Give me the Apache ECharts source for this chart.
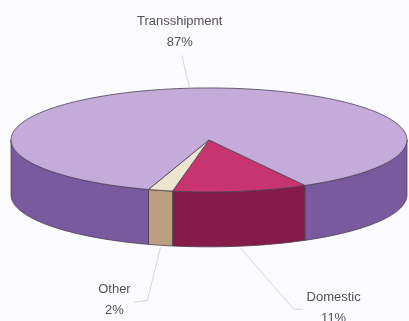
<!DOCTYPE html>
<html>
<head>
<meta charset="utf-8">
<script src="https://cdn.jsdelivr.net/npm/echarts@6/dist/echarts.min.js"></script>
<style>
  html, body { margin: 0; padding: 0; background: #fbfafc; }
  #chart { width: 409px; height: 321px; }
</style>
</head>
<body>
<div id="chart"></div>
<script>
// Cargo share by movement type
const categories = ['Domestic', 'Other', 'Transshipment'];
const shares = [11, 2, 87];

// Face colours (top surface) and rim colours (side wall) per slice
const topColors = ['#c8346f', '#ede5cf', '#c4abd9'];
const sideColors = ['#841b48', '#bc9f80', '#7a5a9f'];

// Disc geometry, as fractions of the canvas
const DISC = { cx: 0.511, cy: 0.436, rx: 0.484, ry: 0.162, depth: 0.171 };
const START_DEG = 61;   // clockwise from 3 o'clock, screen space

// Label placement relative to each slice's outer midpoint: text centre, leader bend
const labelLayout = [
  { text: [93, 60], bend: [53, 61], end: [62, 61], fromBottom: true },
  { text: [-46, 53], bend: [-13, 53], end: [-26, 55], fromBottom: true },
  { text: [-10, -56], bend: [-8, -33], end: [-8, -33], fromBottom: false }
];

const total = shares.reduce((a, b) => a + b, 0);

function sliceRange(idx) {
  let before = 0;
  for (let k = 0; k < idx; k++) before += shares[k];
  const a = START_DEG + 360 * before / total;
  const b = a + 360 * shares[idx] / total;
  return [a, b];
}

function renderItem(params, api) {
  const i = params.dataIndex;
  const W = api.getWidth(), H = api.getHeight();
  const cx = DISC.cx * W, cy = DISC.cy * H;
  const rx = DISC.rx * W, ry = DISC.ry * H, depth = DISC.depth * H;
  const pt = (deg, dy) => {
    const r = deg * Math.PI / 180;
    return [cx + rx * Math.cos(r), cy + ry * Math.sin(r) + (dy || 0)];
  };
  const arc = (a, b, dy) => {
    const pts = [];
    const n = Math.max(2, Math.ceil((b - a) / 1.5));
    for (let k = 0; k <= n; k++) pts.push(pt(a + (b - a) * k / n, dy));
    return pts;
  };

  const [a, b] = sliceRange(i);
  const value = api.value(0);
  const children = [];
  const edge = { stroke: '#4a3f52', lineWidth: 0.8, lineJoin: 'round' };

  // Side wall: only the front half (0..180 degrees, screen space) is visible
  [0, 360].forEach(k => {
    const s = Math.max(a, k), e = Math.min(b, k + 180);
    if (e > s) {
      const top = arc(s, e, 0);
      const bottom = arc(s, e, depth).reverse();
      children.push({
        type: 'polygon',
        shape: { points: top.concat(bottom) },
        style: Object.assign({ fill: sideColors[i] }, edge)
      });
    }
  });

  // Top face
  children.push({
    type: 'polygon',
    shape: { points: [[cx, cy]].concat(arc(a, b, 0)) },
    style: Object.assign({ fill: topColors[i] }, edge)
  });

  // Label with leader line
  const mid = (a + b) / 2;
  const lay = labelLayout[i];
  const anchor = pt(mid, lay.fromBottom ? depth + 2 : 0);
  children.push({
    type: 'polyline',
    shape: { points: [anchor, [anchor[0] + lay.bend[0], anchor[1] + lay.bend[1]], [anchor[0] + lay.end[0], anchor[1] + lay.end[1]]] },
    style: { stroke: '#cfccd2', lineWidth: 0.8, fill: null },
    z2: 5
  });
  children.push({
    type: 'text',
    x: anchor[0] + lay.text[0],
    y: anchor[1] + lay.text[1],
    style: {
      text: categories[i] + '\n' + value + '%',
      fill: '#564f5c',
      font: '13px "Liberation Sans", Arial, sans-serif',
      align: 'center',
      verticalAlign: 'middle',
      lineHeight: 21
    },
    z2: 6
  });

  return { type: 'group', children };
}

const chart = echarts.init(document.getElementById('chart'), null, { renderer: 'canvas' });
chart.setOption({
  backgroundColor: '#fbfafc',
  animation: false,
  series: [{
    type: 'custom',
    coordinateSystem: 'none',
    renderItem,
    data: shares.map((v, i) => ({ name: categories[i], value: [v] }))
  }]
});
</script>
</body>
</html>
